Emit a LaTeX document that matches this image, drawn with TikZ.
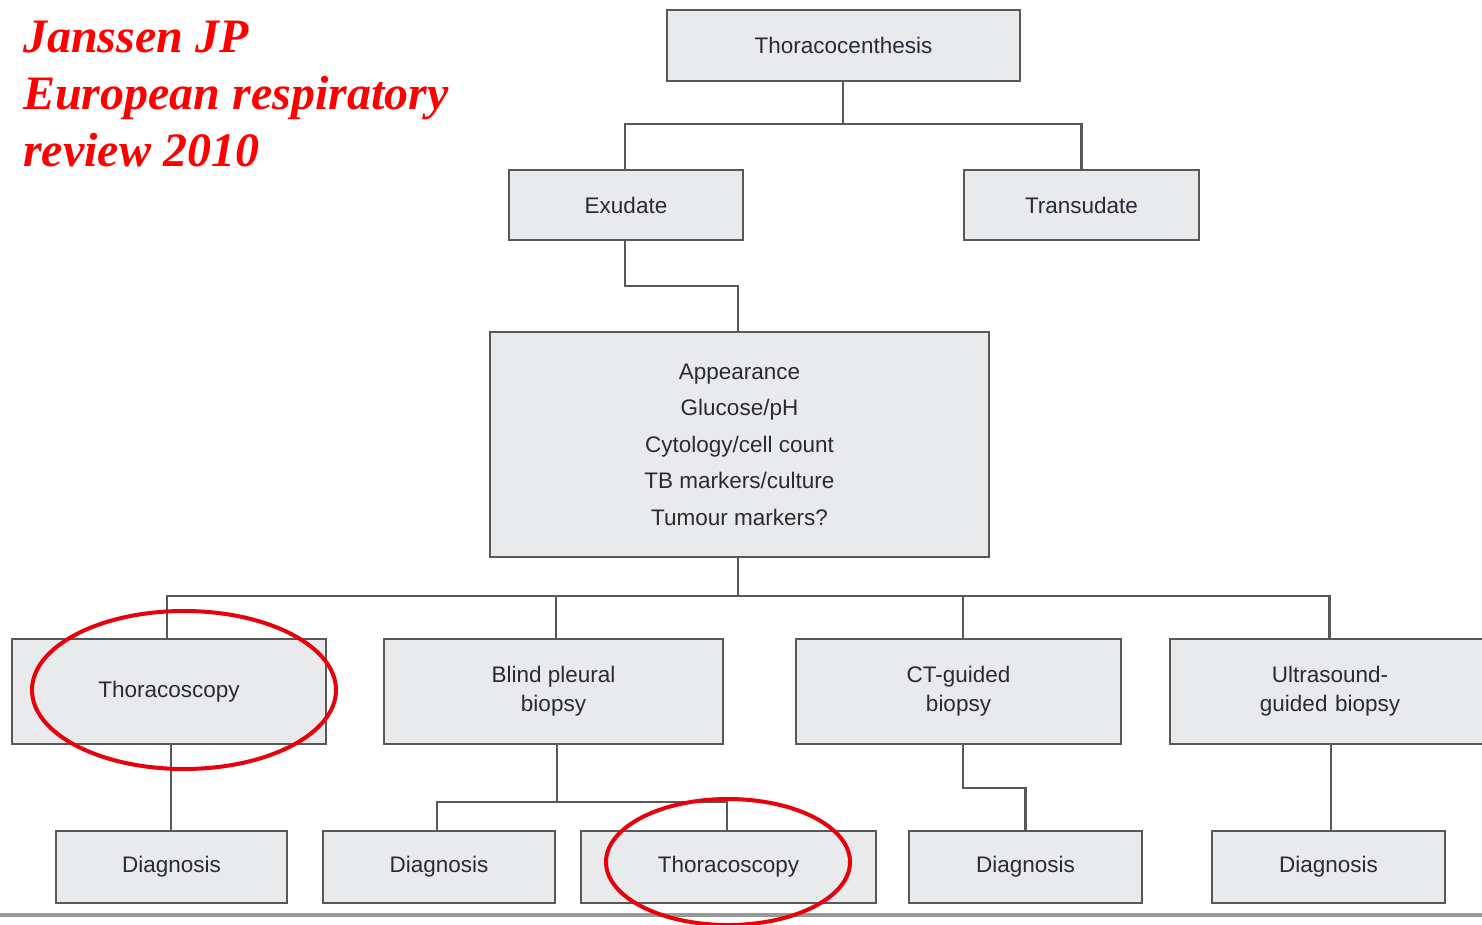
\documentclass[tikz,border=0pt]{standalone}
\usepackage{fontspec}
\setmainfont{Liberation Sans}
\newfontfamily\titlefont{Liberation Serif}
\definecolor{boxfill}{HTML}{E9EAEC}
\definecolor{boxline}{HTML}{585858}
\definecolor{boxtext}{HTML}{2A2A36}
\definecolor{markred}{HTML}{E8000B}
\begin{document}
\begin{tikzpicture}[x=1pt,y=-1pt,
  box/.style={draw=boxline, line width=2pt, fill=boxfill, text=boxtext, align=center,
    inner sep=0pt, font=\fontsize{22.5}{29}\selectfont},
  conn/.style={draw=boxline, line width=2.2pt},
  redring/.style={draw=markred, line width=4pt},
  ttl/.style={anchor=base west, text=red, inner sep=0pt, font=\titlefont\fontsize{48}{57}\selectfont\bfseries\itshape}]
\useasboundingbox (0,0) rectangle (1482,925);
% title
\node[ttl] (t1) at (23,53) {Janssen JP};
\node[ttl] (t2) at (23,110) {European respiratory};
\node[ttl] (t3) at (23,167) {review 2010};
% boxes
\node[box, minimum width=353pt, minimum height=71pt] (thc) at (843.5,45.5) {Thoracocenthesis};
\node[box, minimum width=234pt, minimum height=70pt] (exu) at (626,205) {Exudate};
\node[box, minimum width=235pt, minimum height=70pt] (tra) at (1081.5,205) {Transudate};
\node[box, minimum width=499pt, minimum height=225pt, font=\fontsize{22.5}{36.5}\selectfont] (big) at (739.5,444.5)
  {Appearance\\Glucose/pH\\Cytology/cell count\\TB markers/culture\\Tumour markers?};
\node[box, minimum width=314pt, minimum height=105pt] (tc1) at (169,691.5) {\raisebox{-3pt}{Thoracoscopy}};
\node[box, minimum width=339pt, minimum height=105pt] (bpb) at (553.5,691.5) {Blind pleural\\biopsy};
\node[box, minimum width=325pt, minimum height=105pt] (ctg) at (958.5,691.5) {CT-guided\\biopsy};
\node[box, minimum width=320pt, minimum height=105pt, text width=300pt] (usg) at (1330,691.5) {Ultrasound-\\guided biopsy};
\node[box, minimum width=231pt, minimum height=72pt] (d1) at (171.5,867) {Diagnosis};
\node[box, minimum width=232pt, minimum height=72pt] (d2) at (439,867) {Diagnosis};
\node[box, minimum width=295pt, minimum height=72pt] (tc2) at (728.5,867) {Thoracoscopy};
\node[box, minimum width=233pt, minimum height=72pt] (d3) at (1025.5,867) {Diagnosis};
\node[box, minimum width=233pt, minimum height=72pt] (d4) at (1328.5,867) {Diagnosis};
% junctions
\coordinate (j1) at (843,124);
\coordinate (j2) at (625,286);
\coordinate (j3) at (738,596);
\coordinate (j4) at (557,802);
\coordinate (j5) at (963,788);
% connectors
\draw[conn] (thc.south -| j1) -- (j1);
\draw[conn] (exu.north -| j2) |- (j1) -| (tra.north);
\draw[conn] (exu.south -| j2) -- (j2) -| (big.north -| j3);
\draw[conn] (big.south -| j3) -- (j3);
\draw[conn] ([xshift=-2pt]tc1.north) |- (j3) -| ([xshift=-0.5pt]usg.north);
\draw[conn] ([xshift=2.5pt]bpb.north) -- ([xshift=2.5pt]bpb.north |- j3);
\draw[conn] ([xshift=4.5pt]ctg.north) -- ([xshift=4.5pt]ctg.north |- j3);
\draw[conn] ([xshift=2pt]tc1.south) -- ([xshift=2pt]tc1.south |- d1.north);
\draw[conn] (bpb.south -| j4) -- (j4);
\draw[conn] ([xshift=-2pt]d2.north) |- (j4) -| ([xshift=-1.5pt]tc2.north);
\draw[conn] (ctg.south -| j5) -- (j5) -| (d3.north);
\draw[conn] ([xshift=1pt]usg.south) -- ([xshift=1pt]usg.south |- d4.north);
% page rule
\draw[draw=gray!80, line width=4pt] (0,915) -- (1482,915);
% red rings
\draw[redring] (184,690) ellipse [x radius=152pt, y radius=79pt];
\draw[redring] (728,862) ellipse [x radius=122pt, y radius=63pt];
\end{tikzpicture}
\end{document}
